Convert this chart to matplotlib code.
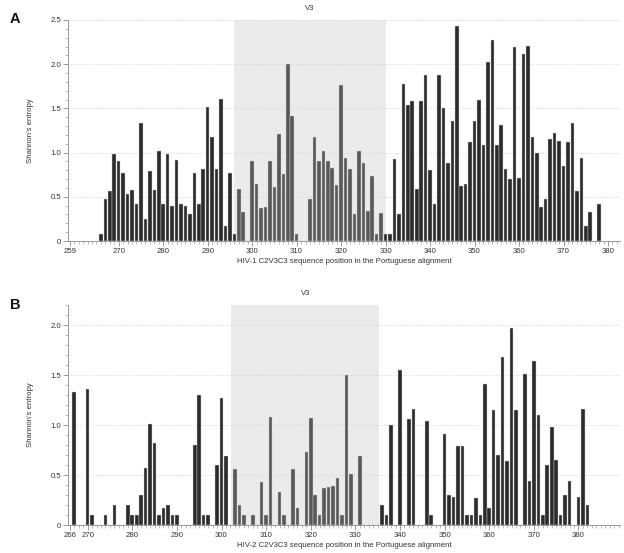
import matplotlib
matplotlib.use("Agg")
import matplotlib.pyplot as plt
from matplotlib.ticker import MultipleLocator, FixedLocator, FuncFormatter

plt.rcParams['font.family'] = ['Liberation Sans', 'DejaVu Sans']

# ---------------- data ----------------
hiv1_pos = list(range(266, 379))
hiv1_entropy = [
    0.08, 0.47, 0.56, 0.98, 0.91, 0.77, 0.53, 0.58, 0.42, 1.34,   # 266-275
    0.25, 0.79, 0.58, 1.02, 0.42, 0.98, 0.40, 0.92, 0.42, 0.40,   # 276-285
    0.31, 0.77, 0.42, 0.82, 1.52, 1.18, 0.82, 1.61, 0.17, 0.77,   # 286-295
    0.08, 0.59, 0.33, 0.00, 0.91, 0.65, 0.37, 0.39, 0.90, 0.61,   # 296-305
    1.21, 0.76, 2.00, 1.41, 0.08, 0.00, 0.00, 0.47, 1.18, 0.91,   # 306-315
    1.02, 0.90, 0.83, 0.63, 1.76, 0.94, 0.82, 0.31, 1.02, 0.88,   # 316-325
    0.34, 0.74, 0.08, 0.32, 0.08, 0.08, 0.93, 0.31, 1.78, 1.54,   # 326-335
    1.58, 0.59, 1.58, 1.88, 0.80, 0.42, 1.88, 1.51, 0.88, 1.36,   # 336-345
    2.43, 0.62, 0.64, 1.12, 1.36, 1.59, 1.09, 2.02, 2.27, 1.09,   # 346-355
    1.31, 0.81, 0.70, 2.19, 0.71, 2.12, 2.21, 1.18, 1.00, 0.38,   # 356-365
    0.47, 1.15, 1.22, 1.13, 0.85, 1.12, 1.33, 0.57, 0.94, 0.17,   # 366-375
    0.33, 0.00, 0.42,                                             # 376-378
]
hiv1_v3 = (296.0, 330.0)
hiv1_xticks = [259, 270, 280, 290, 300, 310, 320, 330, 340, 350, 360, 370, 380]

hiv2_pos = list(range(267, 383))
hiv2_entropy = [
    1.33, 0.00, 0.00, 1.36, 0.10, 0.00, 0.00, 0.10, 0.00, 0.20,   # 267-276
    0.00, 0.00, 0.20, 0.10, 0.10, 0.30, 0.57, 1.01, 0.82, 0.10,   # 277-286
    0.17, 0.20, 0.10, 0.10, 0.00, 0.00, 0.00, 0.80, 1.30, 0.10,   # 287-296
    0.10, 0.00, 0.60, 1.27, 0.69, 0.00, 0.56, 0.20, 0.10, 0.00,   # 297-306
    0.10, 0.00, 0.43, 0.10, 1.08, 0.00, 0.33, 0.10, 0.00, 0.56,   # 307-316
    0.17, 0.00, 0.73, 1.07, 0.30, 0.10, 0.37, 0.38, 0.39, 0.47,   # 317-326
    0.10, 1.50, 0.51, 0.00, 0.69, 0.00, 0.00, 0.00, 0.00, 0.20,   # 327-336
    0.10, 1.00, 0.00, 1.55, 0.00, 1.06, 1.16, 0.00, 0.00, 1.04,   # 337-346
    0.10, 0.00, 0.00, 0.91, 0.30, 0.28, 0.79, 0.79, 0.10, 0.10,   # 347-356
    0.27, 0.10, 1.41, 0.17, 1.15, 0.70, 1.68, 0.64, 1.97, 1.15,   # 357-366
    0.00, 1.51, 0.44, 1.64, 1.10, 0.10, 0.60, 0.98, 0.65, 0.10,   # 367-376
    0.30, 0.44, 0.00, 0.28, 1.16, 0.20,                           # 377-382
]
hiv2_v3 = (302.2, 335.4)
hiv2_xticks = [266, 270, 280, 290, 300, 310, 320, 330, 340, 350, 360, 370, 380]

panels = [
    dict(letter="A", pos=hiv1_pos, vals=hiv1_entropy, v3=hiv1_v3, xticks=hiv1_xticks,
         xlim=(258.6, 382.7), ylim=(0, 2.5),
         xlabel="HIV-1 C2V3C3 sequence position in the Portuguese alignment",
         rect=[68/624, 1-241/553, 552/624, 221/553], letter_y=1-12/553),
    dict(letter="B", pos=hiv2_pos, vals=hiv2_entropy, v3=hiv2_v3, xticks=hiv2_xticks,
         xlim=(265.6, 389.3), ylim=(0, 2.2),
         xlabel="HIV-2 C2V3C3 sequence position in the Portuguese alignment",
         rect=[68/624, 1-525/553, 552/624, 220/553], letter_y=1-298/553),
]

DARK = "#2b2b2b"
MID = "#595959"
SHADE = "#ebebeb"
AXC = "#8a8a8a"
TXT = "#333333"
FS = 5.6

fig = plt.figure(figsize=(6.24, 5.53), dpi=100)

def yfmt(v, _):
    return "0" if abs(v) < 1e-9 else f"{v:.1f}"

for p in panels:
    ax = fig.add_axes(p["rect"])
    lo, hi = p["v3"]
    ax.axvspan(lo, hi, color=SHADE, zorder=0, lw=0)
    colors = [MID if lo < x < hi else DARK for x in p["pos"]]
    ax.bar(p["pos"], p["vals"], width=0.8, color=colors, edgecolor="#d0d0d0",
           linewidth=0.3, zorder=3)
    ax.set_xlim(*p["xlim"])
    ax.set_ylim(*p["ylim"])
    for s in ["top", "right"]:
        ax.spines[s].set_visible(False)
    for s in ["left", "bottom"]:
        ax.spines[s].set_color(AXC)
        ax.spines[s].set_linewidth(0.6)
    ax.yaxis.set_major_locator(MultipleLocator(0.5))
    ax.yaxis.set_minor_locator(MultipleLocator(0.1))
    ax.yaxis.set_major_formatter(FuncFormatter(yfmt))
    ax.xaxis.set_major_locator(FixedLocator(p["xticks"]))
    ax.xaxis.set_minor_locator(MultipleLocator(1))
    ax.tick_params(axis="both", which="major", length=3.5, width=0.6, color=AXC,
                   labelsize=FS, labelcolor=TXT, pad=1.5, direction="out")
    ax.tick_params(axis="both", which="minor", length=2, width=0.4, color=AXC,
                   direction="out")
    ax.grid(axis="y", which="major", linestyle=(0, (1, 2)), color="#c8c8c8",
            linewidth=0.6, zorder=1)
    ax.set_axisbelow(True)
    ax.set_xlabel(p["xlabel"], fontsize=FS, color=TXT, labelpad=2)
    ax.set_ylabel("Shannon\u2019s entropy", fontsize=FS, color=TXT, labelpad=12)
    ax.text((lo + hi) / 2, p["ylim"][1] * 1.035, "V3", ha="center", va="bottom",
            fontsize=FS, color=TXT)
    fig.text(10/624, p["letter_y"], p["letter"], fontsize=10.5, fontweight="bold",
             ha="left", va="top", color="#111111")

fig.savefig("out.png", dpi=100)
